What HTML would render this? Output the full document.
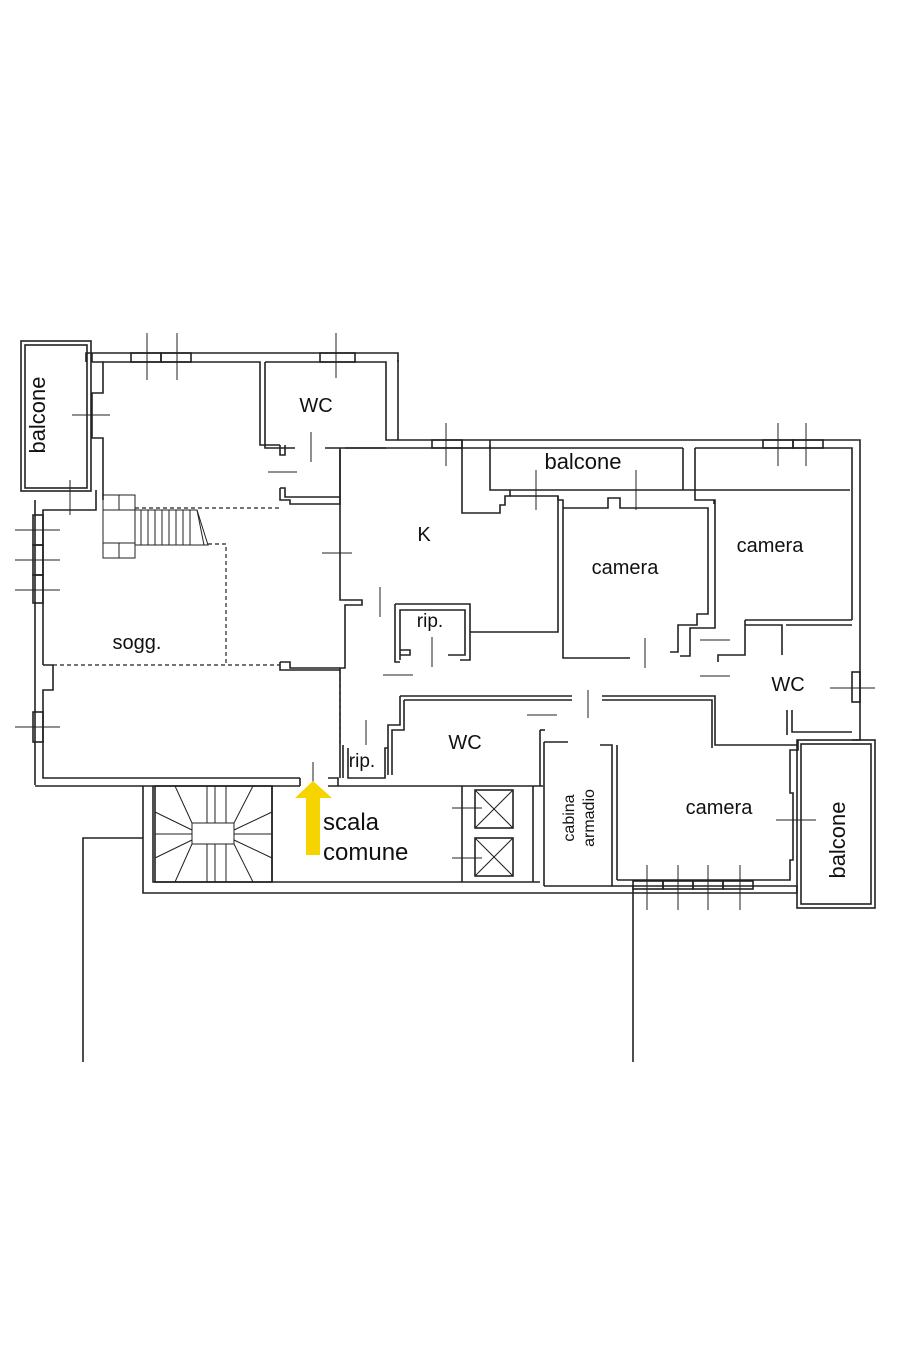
<!DOCTYPE html>
<html><head><meta charset="utf-8"><style>
html,body{margin:0;padding:0;background:#fff}
svg{display:block}
text{font-family:"Liberation Sans",sans-serif;fill:#111}
</style></head><body>
<svg width="911" height="1367" viewBox="0 0 911 1367" xmlns="http://www.w3.org/2000/svg">
<g fill="none" stroke="#222" stroke-width="1.6">
<!-- left balcone -->
<rect x="21" y="341" width="70" height="150"/>
<rect x="25" y="345" width="62" height="143"/>
<!-- top wall left block -->
<polyline points="86,362 86,353 398,353 398,362"/>
<polyline points="92,362 92,353"/>
<polyline points="103,362 260,362 260,445 280,445"/>
<polyline points="265,362 386,362 386,440 398,440 398,360"/>
<polyline points="92,362 103,362 103,393 92,393 92,438 103,438 103,500"/>
<polyline points="96,490 96,510 43,510 43,665"/>
<polyline points="35,500 35,785"/>
<polyline points="43,665 53,665 53,690 43,690 43,778 300,778"/>
<polyline points="35,786 300,786"/>
<polyline points="328,778 338,778 338,786"/>
<polyline points="328,786 543,786"/>
<!-- windows left -->
<rect x="33" y="515" width="10" height="30"/><rect x="33" y="545" width="10" height="30"/><rect x="33" y="575" width="10" height="28"/>
<rect x="33" y="712" width="10" height="30"/>
<rect x="131" y="353" width="30" height="9"/><rect x="161" y="353" width="30" height="9"/>
<rect x="320" y="353" width="35" height="9"/>
<!-- WC top left inner -->
<polyline points="265,362 265,448 295,448"/>
<polyline points="325,448 386,448"/>
<polyline points="280,445 280,455 285,455 285,445"/>
<polyline points="280,488 280,500 290,500 290,504 340,504 340,448"/>
<polyline points="280,488 285,488 285,497 340,497"/>
<!-- K outer walls -->
<polyline points="345,448 462,448 462,440"/>
<polyline points="340,450 340,600 362,600 362,605 345,605 345,668 340,668 340,778"/>
<polyline points="280,662 290,662 290,668 340,668"/>
<polyline points="280,662 280,670 340,670"/>
<polyline points="398,440 860,440 860,740 852,740"/>
<polyline points="462,448 490,448 490,445"/>
<polyline points="462,448 462,513 500,513 500,505 505,505 505,496 510,496 510,490"/>
<polyline points="490,440 490,490 850,490"/>
<polyline points="683,448 683,490"/>
<polyline points="490,448 683,448"/>
<polyline points="695,448 852,448 852,620"/>
<polyline points="510,496 558,496 558,632 470,632 470,660 460,660"/>
<polyline points="558,496 558,500 563,500 563,658 630,658"/>
<polyline points="563,508 608,508 608,498 620,498 620,508 708,508 708,614 697,614 697,625 678,625 678,652 670,652"/>
<polyline points="695,448 695,500 715,500 715,628 690,628 690,656 680,656"/>
<polyline points="714,504 714,500"/>
<!-- rip centre -->
<polyline points="395,604 470,604 470,632"/>
<polyline points="400,660 400,610 465,610 465,655 448,655"/>
<polyline points="395,604 395,662 400,662"/>
<polyline points="400,650 410,650 410,655 400,655"/>
<!-- central corridor walls -->
<polyline points="400,696 572,696"/>
<polyline points="404,700 572,700"/>
<polyline points="602,696 715,696 715,745 798,745"/>
<polyline points="602,700 712,700 712,748"/>
<polyline points="400,696 400,725 388,725 388,775"/>
<polyline points="404,700 404,730 392,730 392,775"/>
<polyline points="343,745 343,778"/>
<polyline points="348,748 348,778 385,778 385,748 388,748"/>
<!-- right WC -->
<polyline points="745,620 852,620"/>
<polyline points="745,625 782,625 782,655"/>
<polyline points="786,625 852,625"/>
<polyline points="745,620 745,655 718,655 718,662"/>
<polyline points="792,710 792,732 852,732"/>
<polyline points="787,710 787,735"/>
<rect x="852" y="672" width="8" height="30"/>
<!-- WC lower + cabina -->
<polyline points="540,730 540,786"/>
<polyline points="544,742 544,886"/>
<polyline points="544,742 568,742"/>
<polyline points="600,745 612,745 612,886 544,886"/>
<polyline points="540,730 545,730"/>
<polyline points="617,745 617,880"/>
<polyline points="798,740 798,750 790,750 790,793 793,793 793,860 790,860 790,880 617,880"/>
<polyline points="612,886 797,886 797,893"/>
<rect x="633" y="881" width="30" height="8"/><rect x="663" y="881" width="30" height="8"/><rect x="693" y="881" width="30" height="8"/><rect x="723" y="881" width="30" height="8"/>
<!-- right balcone -->
<rect x="797" y="740" width="78" height="168"/>
<rect x="801" y="744" width="70" height="160"/>
<!-- top windows right -->
<rect x="763" y="440" width="30" height="8"/><rect x="793" y="440" width="30" height="8"/>
<rect x="432" y="440" width="30" height="8"/>
<!-- scala block -->
<polyline points="143,786 143,893 797,893"/>
<polyline points="153,786 153,882 540,882"/>
<rect x="155" y="786" width="117" height="96"/>
<polyline points="272,786 272,882"/>
<polyline points="300,786 300,778"/>
<polyline points="462,786 462,882"/>
<polyline points="533,786 533,882"/>
<rect x="475" y="790" width="38" height="38"/><rect x="475" y="838" width="38" height="38"/>
<polyline points="83,1062 83,838 143,838"/>
<polyline points="633,885 633,1062"/>
</g>
<g fill="none" stroke="#222" stroke-width="1">
<line x1="475" y1="790" x2="513" y2="828"/><line x1="513" y1="790" x2="475" y2="828"/>
<line x1="475" y1="838" x2="513" y2="876"/><line x1="513" y1="838" x2="475" y2="876"/>
<!-- crosses windows -->
<line x1="147" y1="333" x2="147" y2="380"/><line x1="177" y1="333" x2="177" y2="380"/><line x1="336" y1="333" x2="336" y2="378"/>
<line x1="72" y1="415" x2="110" y2="415"/>
<line x1="15" y1="530" x2="60" y2="530"/><line x1="15" y1="560" x2="60" y2="560"/><line x1="15" y1="590" x2="60" y2="590"/><line x1="15" y1="727" x2="60" y2="727"/>
<line x1="70" y1="480" x2="70" y2="515"/>
<line x1="446" y1="423" x2="446" y2="466"/><line x1="778" y1="423" x2="778" y2="466"/><line x1="806" y1="423" x2="806" y2="466"/>
<line x1="536" y1="470" x2="536" y2="510"/><line x1="636" y1="470" x2="636" y2="510"/>
<line x1="322" y1="553" x2="352" y2="553"/><line x1="830" y1="688" x2="875" y2="688"/>
<line x1="776" y1="820" x2="816" y2="820"/>
<line x1="647" y1="865" x2="647" y2="910"/><line x1="678" y1="865" x2="678" y2="910"/><line x1="708" y1="865" x2="708" y2="910"/><line x1="740" y1="865" x2="740" y2="910"/>
<line x1="452" y1="808" x2="482" y2="808"/><line x1="452" y1="858" x2="482" y2="858"/>
<line x1="313" y1="762" x2="313" y2="785"/>
<!-- door leaves -->
<line x1="311" y1="432" x2="311" y2="462"/><line x1="268" y1="472" x2="297" y2="472"/>
<line x1="380" y1="587" x2="380" y2="617"/><line x1="383" y1="675" x2="413" y2="675"/>
<line x1="432" y1="637" x2="432" y2="667"/><line x1="366" y1="720" x2="366" y2="745"/>
<line x1="527" y1="715" x2="557" y2="715"/><line x1="588" y1="690" x2="588" y2="718"/>
<line x1="645" y1="638" x2="645" y2="668"/><line x1="700" y1="640" x2="730" y2="640"/><line x1="700" y1="676" x2="730" y2="676"/>
</g>
<!-- stairs internal -->
<g fill="none" stroke="#222" stroke-width="1">
<rect x="103" y="495" width="32" height="63"/>
<line x1="103" y1="510" x2="135" y2="510"/><line x1="103" y1="543" x2="135" y2="543"/><line x1="119" y1="495" x2="119" y2="510"/><line x1="119" y1="543" x2="119" y2="558"/>
<polyline points="135,510 197,510 208,545 135,545"/>
<line x1="141" y1="510" x2="141" y2="545"/><line x1="148" y1="510" x2="148" y2="545"/><line x1="155" y1="510" x2="155" y2="545"/><line x1="162" y1="510" x2="162" y2="545"/><line x1="169" y1="510" x2="169" y2="545"/><line x1="176" y1="510" x2="176" y2="545"/><line x1="183" y1="510" x2="183" y2="545"/><line x1="190" y1="510" x2="190" y2="545"/><line x1="197" y1="510" x2="204" y2="545"/>
<!-- common stair -->
<rect x="192" y="823" width="42" height="21"/>
<line x1="155" y1="834" x2="192" y2="834"/><line x1="234" y1="834" x2="272" y2="834"/>
<line x1="207" y1="786" x2="207" y2="823"/><line x1="215" y1="786" x2="215" y2="823"/><line x1="226" y1="786" x2="226" y2="823"/>
<line x1="207" y1="844" x2="207" y2="882"/><line x1="215" y1="844" x2="215" y2="882"/><line x1="226" y1="844" x2="226" y2="882"/>
<line x1="175" y1="786" x2="192" y2="823"/><line x1="253" y1="786" x2="234" y2="823"/>
<line x1="175" y1="882" x2="192" y2="844"/><line x1="253" y1="882" x2="234" y2="844"/>
<line x1="155" y1="812" x2="192" y2="830"/><line x1="155" y1="858" x2="192" y2="840"/>
<line x1="272" y1="812" x2="234" y2="830"/><line x1="272" y1="858" x2="234" y2="840"/>
</g>
<g fill="none" stroke="#222" stroke-width="1.2" stroke-dasharray="4,3">
<line x1="135" y1="508" x2="282" y2="508"/>
<polyline points="208,544 226,544 226,665"/>
<line x1="53" y1="665" x2="280" y2="665"/>
<line x1="340" y1="670" x2="340" y2="745"/>
</g>
<polygon points="313,781 332,798 320,798 320,855 306,855 306,798 295,798" fill="#f5d400"/>
<text x="45" y="415" font-size="22" text-anchor="middle" transform="rotate(-90 45 415)">balcone</text>
<text x="316" y="412" font-size="20" text-anchor="middle">WC</text>
<text x="583" y="469" font-size="22" text-anchor="middle">balcone</text>
<text x="424" y="541" font-size="20" text-anchor="middle">K</text>
<text x="625" y="574" font-size="20" text-anchor="middle">camera</text>
<text x="770" y="552" font-size="20" text-anchor="middle">camera</text>
<text x="430" y="627" font-size="19" text-anchor="middle">rip.</text>
<text x="137" y="649" font-size="20" text-anchor="middle">sogg.</text>
<text x="788" y="691" font-size="20" text-anchor="middle">WC</text>
<text x="465" y="749" font-size="20" text-anchor="middle">WC</text>
<text x="362" y="767" font-size="19" text-anchor="middle">rip.</text>
<text x="719" y="814" font-size="20" text-anchor="middle">camera</text>
<text x="323" y="830" font-size="24" fill="#000">scala</text>
<text x="323" y="860" font-size="24" fill="#000">comune</text>
<text x="574" y="818" font-size="16" text-anchor="middle" transform="rotate(-90 574 818)">cabina</text>
<text x="594" y="818" font-size="16" text-anchor="middle" transform="rotate(-90 594 818)">armadio</text>
<text x="845" y="840" font-size="22" text-anchor="middle" transform="rotate(-90 845 840)">balcone</text>
</svg>
</body></html>
